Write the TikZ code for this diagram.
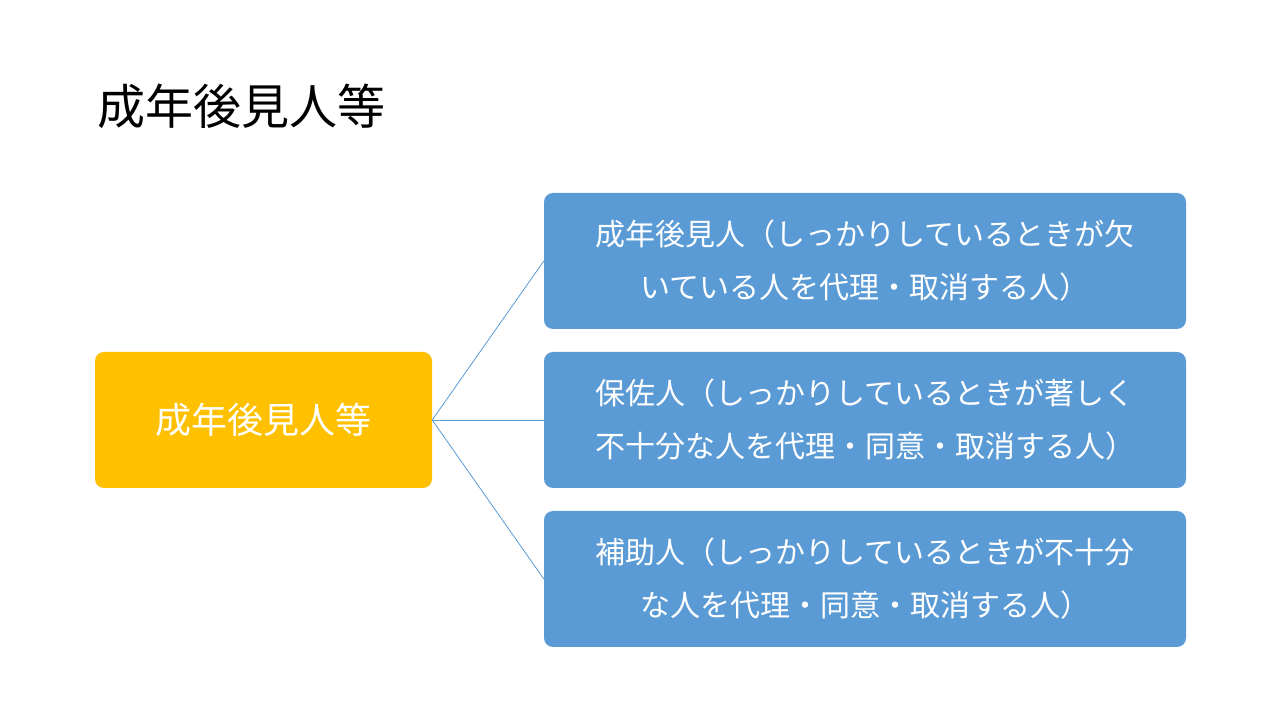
\documentclass[tikz,border=0pt]{standalone}
\usepackage{fontspec}
\setmainfont{Noto Sans CJK JP}
\begin{document}
\begin{tikzpicture}[x=1pt,y=1pt,
  bluebox/.style={fill=blue!45!cyan!60!black!0, fill={rgb,255:red,91;green,155;blue,213}, rounded corners=9pt, minimum width=642pt, minimum height=136pt, inner sep=0pt, text=white, align=center, font=\fontsize{30}{53}\selectfont},
  orbox/.style={fill={rgb,255:red,255;green,192;blue,0}, rounded corners=9pt, minimum width=337pt, minimum height=136pt, inner sep=0pt, text=white, font=\fontsize{36}{40}\selectfont},
  conn/.style={draw={rgb,255:red,91;green,155;blue,213}, line width=0.8pt}]
\useasboundingbox (0,0) rectangle (1280,720);
\fill[white] (0,0) rectangle (1280,720);
\node[anchor=west, font=\fontsize{48}{52}\selectfont, inner sep=0pt] (title) at (97,614) {成年後見人等};
\node[orbox] (o) at (263.5,300) {成年後見人等};
\node[bluebox] (b1) at (865,459) {成年後見人（しっかりしているときが欠\\いている人を代理・取消する人）};
\node[bluebox] (b2) at (865,300) {保佐人（しっかりしているときが著しく\\不十分な人を代理・同意・取消する人）};
\node[bluebox] (b3) at (865,141) {補助人（しっかりしているときが不十分\\な人を代理・同意・取消する人）};
\draw[conn] (o.east) -- (b1.west);
\draw[conn] (o.east) -- (b2.west);
\draw[conn] (o.east) -- (b3.west);
\end{tikzpicture}
\end{document}
